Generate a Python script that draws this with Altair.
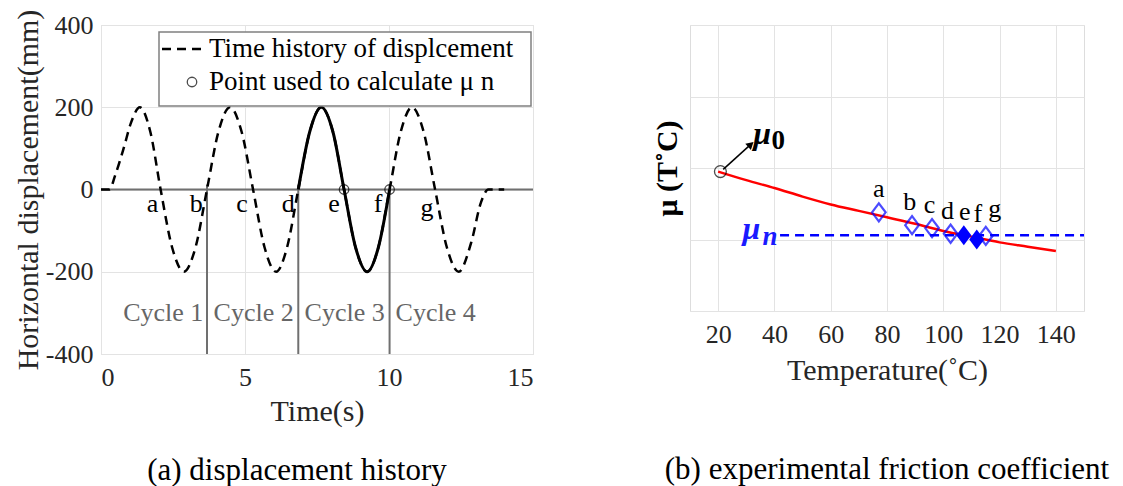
import altair as alt
import pandas as pd

FONT = "Liberation Serif"
DARK = "#262626"
GRID = "#e3e3e3"
BLUE = "#0000ff"

# ---------------- (a) displacement history ----------------
t_disp = [0, 0.30, 0.48, 0.79, 1.04, 1.35, 1.71, 2.07, 2.47, 2.88, 3.28, 3.68, 4.08, 4.48,
          4.88, 5.28, 5.68, 6.08, 6.46, 6.85, 7.25, 7.65, 8.05, 8.44, 8.84, 9.24, 9.63,
          10.02, 10.41, 10.80, 11.20, 11.60, 12.01, 12.42, 12.85, 13.20, 13.45, 14.0]
d_disp = [0, 0, 32, 101, 162, 200, 141, 0, -141, -200, -141, 0, 141, 200,
          141, 0, -141, -200, -141, 0, 141, 200, 141, 0, -141, -200, -141,
          0, 141, 200, 141, 0, -141, -200, -130, -30, 0, 0]
cycle3 = [6.85, 10.02]
letters = ["a", "b", "c", "d", "e", "f", "g"]
letter_t = [1.79, 3.31, 4.90, 6.50, 8.09, 9.62, 11.32]
letter_d = [-36, -36, -36, -36, -36, -36, -44]
circ_t = [8.44, 10.02]
circ_d = [0, 0]
bound_t = [3.68, 6.85, 10.02]
cycle_names = ["Cycle 1", "Cycle 2", "Cycle 3", "Cycle 4"]
cycle_t = [2.16, 5.30, 8.46, 11.62]
cycle_d = [-300, -300, -300, -300]
legend_labels = ["Time history of displcement", "Point used to calculate μ n"]

# ---------------- (b) friction coefficient ----------------
temp_curve = [20, 30, 40, 50, 60, 70, 80, 90, 100, 110, 120, 130, 140]
mu_curve = [0.195, 0.183, 0.172, 0.160, 0.149, 0.140, 0.131, 0.122, 0.112, 0.104, 0.096, 0.090, 0.084]
temp_pts = [77.1, 88.9, 96.0, 102.6, 107.3, 111.9, 115.1]
mu_pts = [0.138, 0.120, 0.116, 0.108, 0.106, 0.100, 0.105]
filled_pts = [False, False, False, False, True, True, False]
lab_temp = [77.1, 88.1, 95.1, 101.5, 107.6, 112.3, 118.3]
lab_mu = [0.170, 0.152, 0.148, 0.140, 0.138, 0.135, 0.142]
mu_n = 0.106
mu_n_range = [42, 150]
mu0_temp, mu0_val = 20.8, 0.195
arrow_from = [21.8, 0.198]
arrow_to = [31.6, 0.233]

DIAMOND = "M-0.75,0L0,-1L0.75,0L0,1Z"

# ================= left chart =================
xa = alt.Scale(domain=[0, 15], nice=False)
ya = alt.Scale(domain=[-400, 400], nice=False)
axis_common = dict(grid=True, gridColor=GRID, ticks=False, domain=False,
                   labelFont=FONT, labelFontSize=26, labelColor=DARK,
                   titleFont=FONT, titleFontSize=30, titleFontWeight="normal",
                   titleColor=DARK, labelExpr="'' + datum.value")
x_axis_a = alt.Axis(values=[0, 5, 10, 15], title="Time(s)", labelPadding=10,
                    titlePadding=6, **axis_common)
y_axis_a = alt.Axis(values=[-400, -200, 0, 200, 400], title="Horizontal displacement(mm)",
                    labelPadding=8, titlePadding=2, **axis_common)

df_disp = pd.DataFrame({"t": t_disp, "d": d_disp})
base_a = alt.Chart(df_disp)

zero_line = alt.Chart(pd.DataFrame({"y": [0]})).mark_rule(color="#707070", strokeWidth=2).encode(
    y=alt.Y("y:Q", scale=ya, axis=y_axis_a))

bounds = alt.Chart(pd.DataFrame({"t": bound_t, "y1": [-400] * 3, "y2": [12] * 3})).mark_rule(
    color="#707070", strokeWidth=2).encode(
    x=alt.X("t:Q", scale=xa, axis=x_axis_a), y=alt.Y("y1:Q", scale=ya), y2="y2:Q")

dashed = base_a.mark_line(color="black", strokeWidth=2.5, strokeDash=[9, 6],
                          interpolate="monotone").encode(
    x=alt.X("t:Q", scale=xa, axis=x_axis_a), y=alt.Y("d:Q", scale=ya, axis=y_axis_a))

solid = base_a.transform_filter(
    f"datum.t >= {cycle3[0]} && datum.t <= {cycle3[1]}").mark_line(
    color="black", strokeWidth=3, interpolate="monotone").encode(
    x=alt.X("t:Q", scale=xa), y=alt.Y("d:Q", scale=ya))

circles = alt.Chart(pd.DataFrame({"t": circ_t, "d": circ_d})).mark_point(
    shape="circle", filled=False, color="black", size=90, strokeWidth=1.3).encode(
    x=alt.X("t:Q", scale=xa), y=alt.Y("d:Q", scale=ya))

letter_a = alt.Chart(pd.DataFrame({"t": letter_t, "d": letter_d, "s": letters})).mark_text(
    font=FONT, fontSize=26, color="black").encode(
    x=alt.X("t:Q", scale=xa), y=alt.Y("d:Q", scale=ya), text="s:N")

cycles = alt.Chart(pd.DataFrame({"t": cycle_t, "d": cycle_d, "s": cycle_names})).mark_text(
    font=FONT, fontSize=26, color="#666666").encode(
    x=alt.X("t:Q", scale=xa), y=alt.Y("d:Q", scale=ya), text="s:N")

# manual legend
leg_box = alt.Chart(pd.DataFrame({"k": [0]})).mark_rect(
    fill="white", stroke="#808080", strokeWidth=1.5).encode(
    x=alt.value(58), x2=alt.value(430), y=alt.value(7), y2=alt.value(81))
leg_line = alt.Chart(pd.DataFrame({"k": [0]})).mark_rule(
    color="black", strokeWidth=2.5, strokeDash=[9, 6]).encode(
    x=alt.value(61), x2=alt.value(104), y=alt.value(24))
leg_circ = alt.Chart(pd.DataFrame({"k": [0]})).mark_point(
    shape="circle", filled=False, color="black", size=90, strokeWidth=1.3).encode(
    x=alt.value(91), y=alt.value(57))
leg_text = alt.Chart(pd.DataFrame({"s": legend_labels, "py": [24, 57]})).mark_text(
    font=FONT, fontSize=27, color="black", align="left", baseline="middle").encode(
    x=alt.value(108), y=alt.Y("py:Q", scale=None), text="s:N")

left = alt.layer(zero_line, bounds, dashed, solid, circles, letter_a, cycles,
                 leg_box, leg_line, leg_circ, leg_text).properties(
    width=432, height=329,
    title=alt.TitleParams("(a) displacement history", orient="bottom", anchor="middle",
                          frame="group", offset=30, dx=-20, font=FONT, fontSize=31,
                          fontWeight="normal", color="black"))

# ================= right chart =================
xb = alt.Scale(domain=[10, 150], nice=False)
yb = alt.Scale(domain=[0, 0.4], nice=False)
x_axis_b = alt.Axis(values=[20, 40, 60, 80, 100, 120, 140], title="Temperature(˚C)",
                    labelPadding=10, titlePadding=8, **axis_common)
y_axis_b = alt.Axis(values=[0, 0.1, 0.2, 0.3, 0.4], labels=False, title="μ (T˚C)",
                    grid=True, gridColor=GRID, ticks=False, domain=False,
                    titleFont=FONT, titleFontSize=30, titleFontWeight="bold",
                    titleColor="black", titlePadding=8)

red = alt.Chart(pd.DataFrame({"T": temp_curve, "m": mu_curve})).mark_line(
    color="#ff0000", strokeWidth=2.5, interpolate="monotone").encode(
    x=alt.X("T:Q", scale=xb, axis=x_axis_b), y=alt.Y("m:Q", scale=yb, axis=y_axis_b))

mun_line = alt.Chart(pd.DataFrame({"T": mu_n_range, "m": [mu_n, mu_n]})).mark_line(
    color=BLUE, strokeWidth=2.5, strokeDash=[9, 6]).encode(
    x=alt.X("T:Q", scale=xb), y=alt.Y("m:Q", scale=yb))

df_pts = pd.DataFrame({"T": temp_pts, "m": mu_pts, "f": filled_pts})
open_pts = alt.Chart(df_pts).transform_filter("!datum.f").mark_point(
    shape=DIAMOND, filled=False, color=BLUE, size=330, strokeWidth=2.2).encode(
    x=alt.X("T:Q", scale=xb), y=alt.Y("m:Q", scale=yb))
full_pts = alt.Chart(df_pts).transform_filter("datum.f").mark_point(
    shape=DIAMOND, filled=True, color=BLUE, size=400, opacity=1).encode(
    x=alt.X("T:Q", scale=xb), y=alt.Y("m:Q", scale=yb))

letter_b = alt.Chart(pd.DataFrame({"T": lab_temp, "m": lab_mu, "s": letters})).mark_text(
    font=FONT, fontSize=26, color="black").encode(
    x=alt.X("T:Q", scale=xb), y=alt.Y("m:Q", scale=yb), text="s:N")

mu0_circ = alt.Chart(pd.DataFrame({"T": [mu0_temp], "m": [mu0_val]})).mark_point(
    shape="circle", filled=False, color="black", size=140, strokeWidth=1.3).encode(
    x=alt.X("T:Q", scale=xb), y=alt.Y("m:Q", scale=yb))

arrow = alt.Chart(pd.DataFrame({"T": [arrow_from[0]], "m": [arrow_from[1]],
                                "T2": [arrow_to[0]], "m2": [arrow_to[1]]})).mark_rule(
    color="black", strokeWidth=1.5).encode(
    x=alt.X("T:Q", scale=xb), y=alt.Y("m:Q", scale=yb), x2="T2:Q", y2="m2:Q")
arrow_head = alt.Chart(pd.DataFrame({"T": [arrow_to[0]], "m": [arrow_to[1]]})).mark_point(
    shape="triangle-up", filled=True, color="black", size=70, angle=48, opacity=1).encode(
    x=alt.X("T:Q", scale=xb), y=alt.Y("m:Q", scale=yb))

mu_df = pd.DataFrame({
    "T": [35.6, 41.4, 31.8, 38.4],
    "m": [0.247, 0.238, 0.114, 0.104],
    "s": ["μ", "0", "μ", "n"],
    "c": ["black", "black", "#1a1aff", "#1a1aff"],
    "fs": [32, 27, 32, 27],
    "st": ["italic", "normal", "italic", "italic"]})
mu_base = alt.Chart(mu_df).encode(
    x=alt.X("T:Q", scale=xb), y=alt.Y("m:Q", scale=yb), text="s:N",
    color=alt.Color("c:N", scale=None),
    size=alt.Size("fs:Q", scale=None))
mu_it = mu_base.transform_filter("datum.st == 'italic'").mark_text(
    font=FONT, fontWeight="bold", fontStyle="italic")
mu_nm = mu_base.transform_filter("datum.st == 'normal'").mark_text(
    font=FONT, fontWeight="bold", fontStyle="normal")

right = alt.layer(red, mun_line, open_pts, full_pts, letter_b, mu0_circ, arrow,
                  arrow_head, mu_it, mu_nm).properties(
    width=394, height=286,
    title=alt.TitleParams("(b) experimental friction coefficient", orient="bottom",
                          anchor="middle", frame="group", offset=70, font=FONT,
                          fontSize=31, fontWeight="normal", color="black"))

chart = alt.hconcat(left, right, spacing=116).properties(
    padding={"left": 4, "top": 0, "right": 5, "bottom": 0}
).configure_view(stroke=DARK, strokeWidth=1.2).configure(font=FONT)

chart.save("out.html", embed_options={"renderer": "svg", "actions": False})
